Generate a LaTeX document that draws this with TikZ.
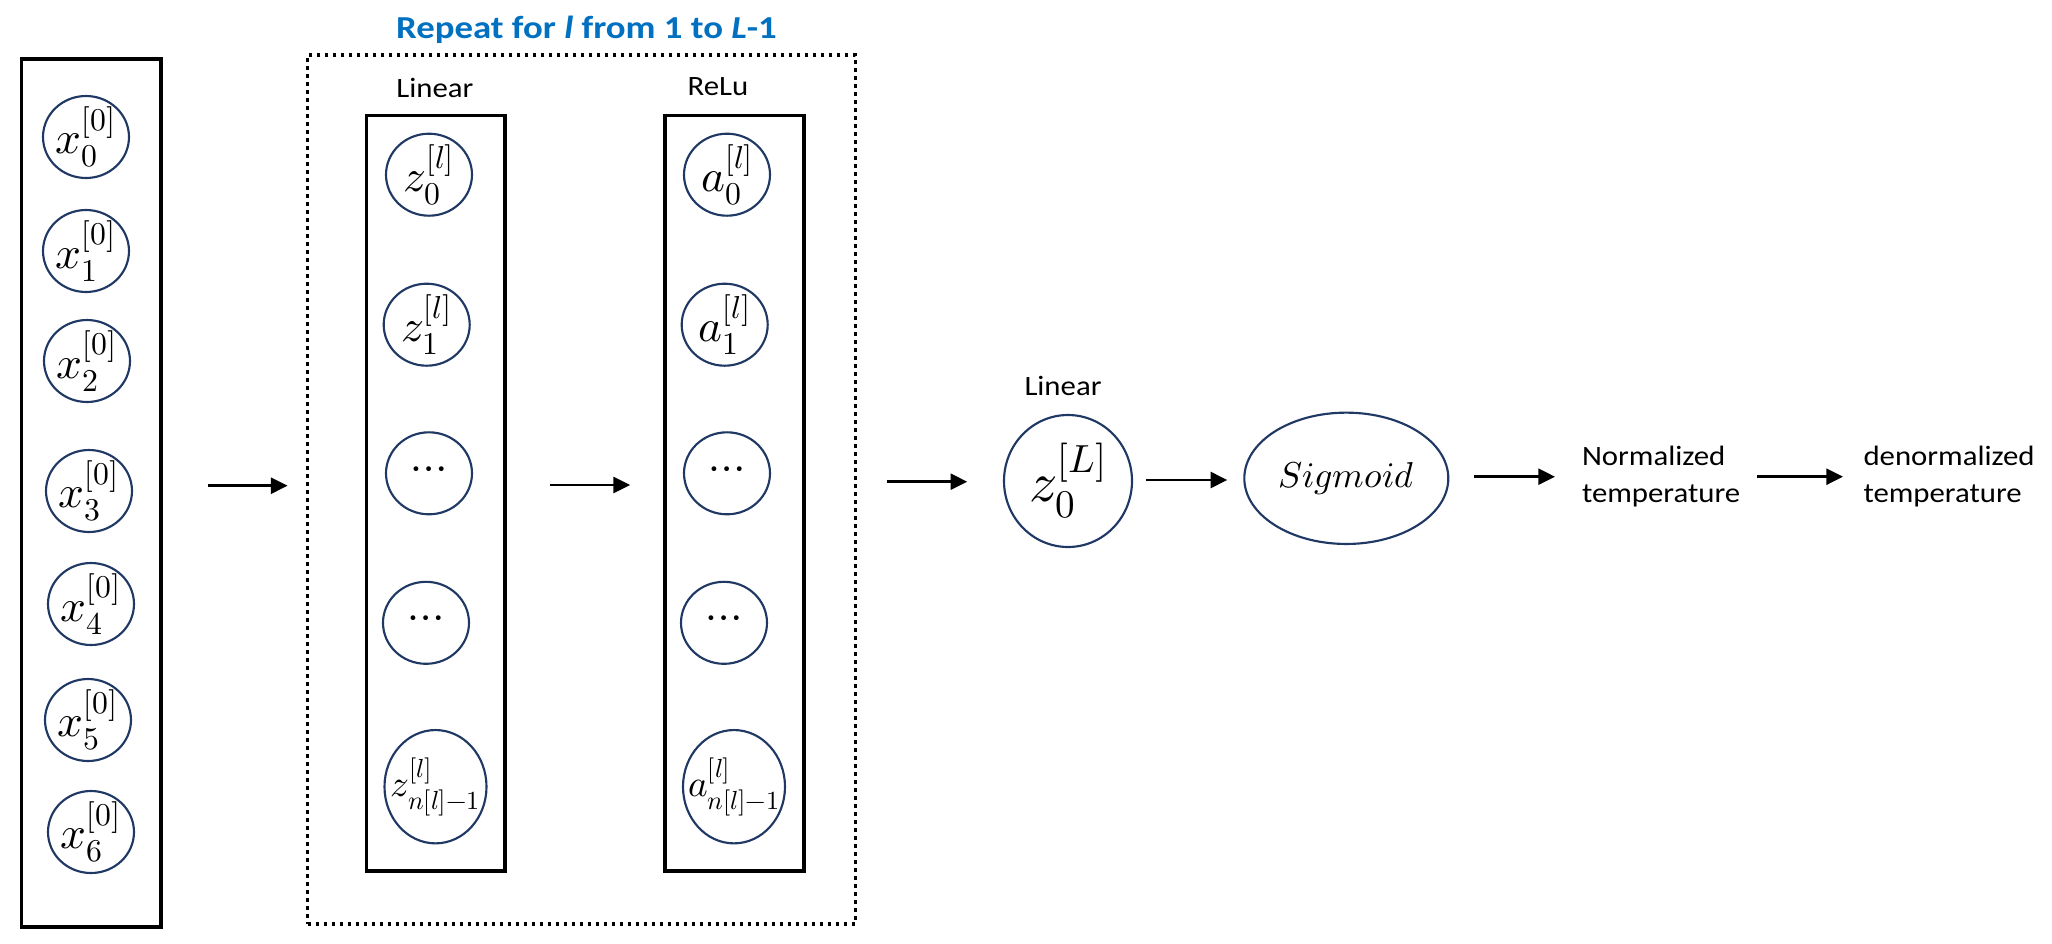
\documentclass[tikz,border=0pt]{standalone}
\usepackage{fontspec}
\usepackage{unicode-math}
\setmainfont{Carlito}[FakeStretch=1.1]
\newfontfamily\titlefont{Carlito}[FakeStretch=1.15]
\setmathfont{Latin Modern Math}
\usetikzlibrary{arrows.meta,shapes.geometric,fit,positioning}

\definecolor{navy}{RGB}{31,56,100}
\definecolor{titleblue}{RGB}{0,112,192}

\tikzset{every picture/.style={line width=0.75pt}}
\tikzset{
  neuron/.style={ellipse, draw=navy, line width=1.6pt, inner sep=-6pt,
    minimum width=64.5pt, minimum height=61.5pt, font=\fontsize{34}{34}\selectfont},
  bigneuron/.style={neuron, inner sep=-14pt, minimum width=76.5pt, minimum height=85pt,
    font=\fontsize{28}{28}\selectfont},
  layerbox/.style={draw, line width=2.3pt, inner sep=0pt},
  loopbox/.style={draw, line width=2.6pt, dash pattern=on 2.6pt off 3.4pt, inner sep=0pt},
  flow/.style={line width=2pt, -{Triangle[length=12.5pt,width=12pt]}},
  lbl/.style={font=\fontsize{21}{28}\selectfont, inner sep=0pt},
}

\begin{document}
\begin{tikzpicture}[x=0.75pt,y=0.75pt,yscale=-1,xscale=1]
\useasboundingbox (0,0) rectangle (2052,943);

% Title
\node (title) [font=\titlefont\bfseries\fontsize{24}{24}\selectfont, text=titleblue, anchor=base] at (586.5,38.3) {Repeat for \textit{l} from 1 to \textit{L}-1};

%Boxes
\node (inbox) [layerbox, fit={(21.7,59) (161,927)}] {};
\node (loop) [loopbox, fit={(307.7,55) (855.5,924)}] {};
\node (zbox) [layerbox, fit={(366.7,115.7) (505,871)}] {};
\node (abox) [layerbox, fit={(665,115.7) (804,871)}] {};

% Text Node
\node (linlbl) [lbl, anchor=base] at (435,97.3) {Linear};
\node (relulbl) [lbl, anchor=base] at (718,95.7) {ReLu};
\node (outlbl) [lbl, anchor=base] at (1063,395.7) {Linear};

%Input layer
\foreach \i/\x/\y in {0/86/137, 1/86/251, 2/87/361, 3/89/491, 4/91/604, 5/88/720, 6/91/832}
  \node (x\i) [neuron] at (\x,\y) {$x_{\i}^{[0]}$};

%Linear layer l
\node (z0) [neuron] at (429,174.7) {$z_0^{[l]}$};
\node (z1) [neuron] at (426.7,324.7) {$z_1^{[l]}$};
\node (zd1) [neuron] at (429,473.3) {$\cdots$};
\node (zd2) [neuron] at (426,622.8) {$\cdots$};
\node (zn) [bigneuron] at (435.5,786.7) {$z_{n[l]-1}^{[l]}$};

%ReLu layer l
\node (a0) [neuron] at (727,174.7) {$a_0^{[l]}$};
\node (a1) [neuron] at (724.7,324.7) {$a_1^{[l]}$};
\node (ad1) [neuron] at (727,473.3) {$\cdots$};
\node (ad2) [neuron] at (724,622.8) {$\cdots$};
\node (an) [bigneuron] at (734,786.7) {$a_{n[l]-1}^{[l]}$};

%Output
\node (zL) [neuron, minimum width=96pt, minimum height=99pt, font=\fontsize{42}{42}\selectfont] at (1068,481) {$z_0^{[L]}$};
\node (sig) [neuron, minimum width=153pt, minimum height=98.5pt, font=\fontsize{27}{27}\selectfont] at (1346.3,478.3) {$Sigmoid$};
\node (norm) [lbl, align=left, anchor=west] at (1581.5,476.6) {Normalized\\temperature};
\node (denorm) [lbl, align=left, anchor=west] at (1863,476.6) {denormalized\\temperature};

%Arrows
\draw [flow, shorten <=33.8pt, shorten >=13.8pt] (inbox.east |- 0,485.7) -- (loop.west |- 0,485.7);
\draw [flow, shorten <=32.5pt, shorten >=25pt] (zbox.east |- 0,485) -- (abox.west |- 0,485);
\draw [flow, shorten <=22pt, shorten >=26.8pt] (loop.east |- 0,481.7) -- (zL.west |- 0,481.7);
\draw [flow, shorten <=9.75pt, shorten >=12pt] (zL.east |- 0,480) -- (sig.west |- 0,480);
\draw [flow, shorten <=18.5pt, shorten >=19.9pt] (sig.east |- 0,476.7) -- (norm.west |- 0,476.7);
\draw [flow, shorten <=12.2pt, shorten >=15pt] (norm.east |- 0,476.7) -- (denorm.west |- 0,476.7);

\end{tikzpicture}
\end{document}
